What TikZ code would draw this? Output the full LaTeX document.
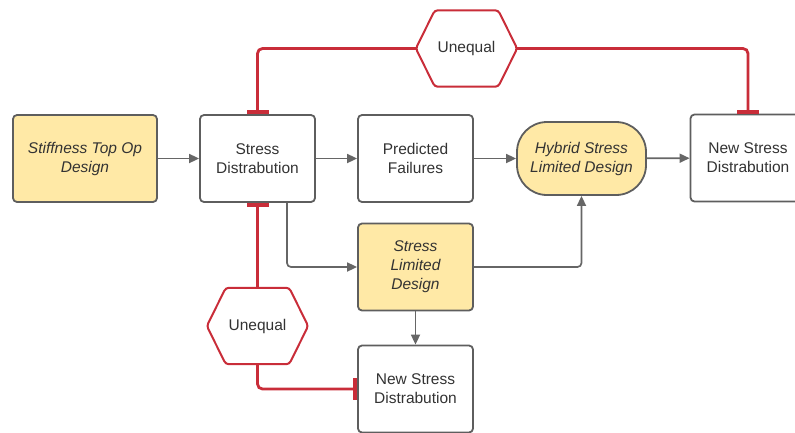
\documentclass[tikz,border=0pt]{standalone}
\usepackage{fontspec}
\setmainfont{Liberation Sans}
\usetikzlibrary{arrows.meta,calc}
\definecolor{boxline}{HTML}{5E5E5E}
\definecolor{txt}{HTML}{333333}
\definecolor{yel}{HTML}{FFE9A6}
\definecolor{redc}{HTML}{C92D39}
\definecolor{conn}{HTML}{666666}
\tikzset{
  box/.style={draw=boxline, line width=1.8pt, rounded corners=4pt, fill=white,
    minimum width=115pt, minimum height=87pt, align=center, text=txt,
    font=\fontsize{15.5}{19}\selectfont, inner sep=2pt},
  ybox/.style={box, fill=yel, font=\fontsize{15.5}{19}\selectfont\itshape},
  hexnode/.style={minimum width=101pt, minimum height=76pt, text=txt,
    font=\fontsize{15.5}{19}\selectfont, inner sep=0pt},
  redline/.style={draw=redc, line width=2.8pt, rounded corners=5pt},
  gl/.style={draw=conn, line width=1.7pt, rounded corners=4pt,
    -{Triangle[length=10pt,width=9pt]}},
}
\newcommand{\hexdraw}[1]{%
  \draw[draw=redc, line width=2pt, rounded corners=3pt, fill=white]
    (#1.west) -- ($(#1.north west)+(19,0)$) -- ($(#1.north east)+(-19,0)$)
    -- (#1.east) -- ($(#1.south east)+(-19,0)$) -- ($(#1.south west)+(19,0)$) -- cycle;
  \node[hexnode] at (#1) {Unequal};}
\begin{document}
\begin{tikzpicture}[x=1pt,y=-1pt]
\useasboundingbox (0,0) rectangle (795,432);
\clip (0,0) rectangle (795,432);
% nodes
\node[ybox, minimum width=144pt] (st) at (85,158.5) {Stiffness Top Op\\Design};
\node[box] (sd) at (257.5,158.5) {Stress\\Distrabution};
\node[box] (pf) at (415.5,158.5) {Predicted\\Failures};
\node[ybox, minimum width=129pt, minimum height=73pt, rounded corners=30pt] (hy) at (581.5,158.5) {Hybrid Stress\\Limited Design};
\node[box] (ns1) at (748,158) {New Stress\\Distrabution};
\node[ybox] (sl) at (415.5,267) {Stress\\Limited\\Design};
\node[box] (ns2) at (415.5,389) {New Stress\\Distrabution};
\node[hexnode] (u1) at (466.5,48.5) {};
\node[hexnode] (u2) at (257.5,326) {};
% grey connectors
\draw[gl] (st) -- (sd);
\draw[gl] (sd) -- (pf);
\draw[gl] (pf) -- (hy);
\draw[gl] (hy) -- (ns1);
\draw[gl] ($(sd.south)+(29.5,0)$) |- (sl.west);
\draw[gl] (sl.east) -| (hy.south);
\draw[gl] (sl.south) -- (ns2.north);
% red connectors
\draw[redline, -{Rectangle[width=22pt,length=4pt]}] (u1.west) -| (sd.north);
\draw[redline, -{Rectangle[width=22pt,length=4pt]}] (u1.east) -| (ns1.north);
\draw[redline, {Rectangle[width=22pt,length=4pt]}-] (sd.south) -- (u2.north);
\draw[redline, -{Rectangle[width=22pt,length=4pt]}] (u2.south) |- (ns2.west);
\hexdraw{u1}
\hexdraw{u2}
\end{tikzpicture}
\end{document}
